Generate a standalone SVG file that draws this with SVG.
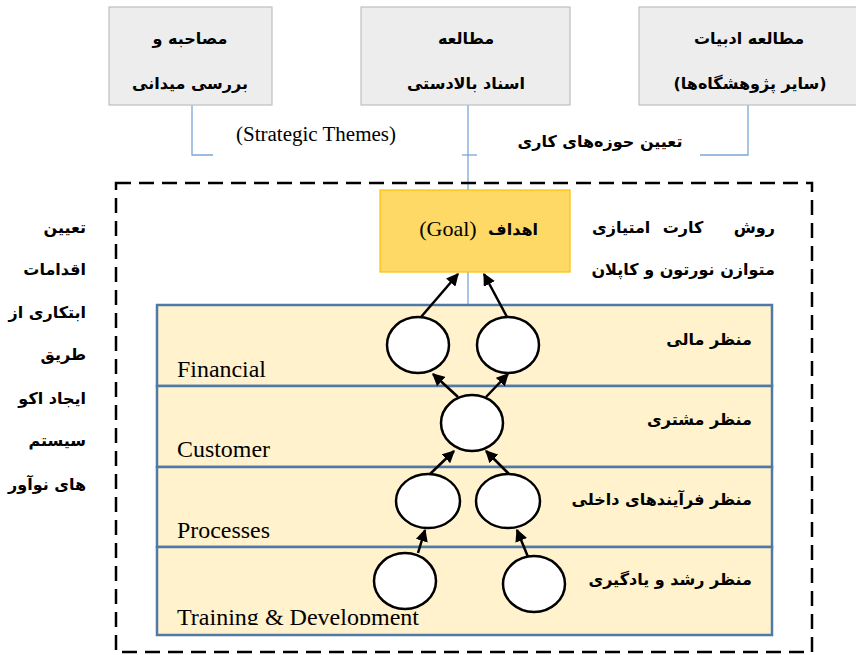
<svg xmlns="http://www.w3.org/2000/svg" width="856" height="655" viewBox="0 0 856 655">
<style>
.src{fill:#ededed;stroke:#bfbfbf;stroke-width:1.2}
.fa{font-family:'DejaVu Sans',sans-serif;font-weight:bold;font-size:16px;fill:#000}
.en{font-family:'Liberation Serif','Times New Roman',serif;fill:#000}
.blue{stroke:#7aa7d8;stroke-width:1.3;fill:none}
.row{fill:#fff2cc;stroke:#4f7aa6;stroke-width:2.5}
.node{fill:#fff;stroke:#000;stroke-width:2.5}
.arr{stroke:#000;stroke-width:2.5;fill:none;marker-end:url(#ah)}
</style>
<defs>
<marker id="ah" viewBox="0 0 10 10" refX="9" refY="5" markerWidth="5" markerHeight="5" orient="auto" markerUnits="strokeWidth">
<path d="M0,0 L10,5 L0,10 z" fill="#000"/>
</marker>
<clipPath id="panelClip"><rect x="157" y="305" width="615" height="320"/></clipPath>
</defs>
<rect width="856" height="655" fill="#fff"/>

<g id="connectors-top">
<path class="blue" d="M192,105 V155 H213"/>
<path class="blue" d="M468,105 V305"/>
<path class="blue" d="M462,155 H477"/>
<path class="blue" d="M748,105 V155 H700"/>
</g>

<g id="src-interview">
<rect class="src" x="109" y="7" width="163" height="98"/>
<text class="fa" x="190" y="44" text-anchor="middle" direction="rtl" font-size="17">مصاحبه و</text>
<text class="fa" x="190" y="89" text-anchor="middle" direction="rtl" font-size="17">بررسی میدانی</text>
</g>
<g id="src-docs">
<rect class="src" x="361" y="7" width="209" height="98"/>
<text class="fa" x="466" y="44" text-anchor="middle" direction="rtl" font-size="17">مطالعه</text>
<text class="fa" x="466" y="89" text-anchor="middle" direction="rtl" font-size="17">اسناد بالادستی</text>
</g>
<g id="src-literature">
<rect class="src" x="639" y="7" width="230" height="98"/>
<text class="fa" x="749" y="44" text-anchor="middle" direction="rtl" font-size="17">مطالعه ادبیات</text>
<text class="fa" x="750" y="89" text-anchor="middle" direction="rtl" font-size="17">(سایر پژوهشگاه‌ها)</text>
</g>

<g id="labels-top">
<text class="en" x="316" y="141" font-size="20" text-anchor="middle" textLength="160" lengthAdjust="spacingAndGlyphs">(Strategic Themes)</text>
<text class="fa" x="600" y="147" text-anchor="middle" direction="rtl" font-size="15">تعیین حوزه‌های کاری</text>
</g>

<g id="frame">
<rect x="116" y="183" width="696" height="469" fill="none" stroke="#000" stroke-width="2.5" stroke-dasharray="15,8"/>
</g>

<g id="side-text">
<text class="fa" x="86" y="233" text-anchor="end">تعیین</text>
<text class="fa" x="86" y="275" text-anchor="end">اقدامات</text>
<text class="fa" x="86" y="318" text-anchor="end">ابتکاری از</text>
<text class="fa" x="86" y="360" text-anchor="end">طریق</text>
<text class="fa" x="86" y="404" text-anchor="end">ایجاد اکو</text>
<text class="fa" x="86" y="446" text-anchor="end">سیستم</text>
<text class="fa" x="86" y="490" text-anchor="end">های نوآور</text>
</g>

<g id="method-text">
<text class="fa" x="775" y="233" text-anchor="end" font-size="17">روش</text>
<text class="fa" x="683" y="233" text-anchor="middle" font-size="17">کارت</text>
<text class="fa" x="592" y="233" text-anchor="start" font-size="17">امتیازی</text>
<text class="fa" x="775" y="275" text-anchor="start" direction="rtl" font-size="17">متوازن نورتون و کاپلان</text>
</g>

<g id="goal">
<rect x="380" y="190" width="190" height="82" fill="#ffd966" stroke="#ffc000" stroke-width="1.2"/>
<text class="en" x="448" y="236" font-size="22" text-anchor="middle">(Goal)</text>
<text class="fa" x="538" y="235" text-anchor="end" font-size="17">اهداف</text>
</g>

<g id="panel">
<rect class="row" x="157" y="305" width="615" height="81"/>
<rect class="row" x="157" y="386" width="615" height="81"/>
<rect class="row" x="157" y="467" width="615" height="80"/>
<rect class="row" x="157" y="547" width="615" height="88"/>
</g>

<g id="row-financial">
<text class="fa" x="752" y="345" text-anchor="end" font-size="17">منظر مالی</text>
<text class="en" x="177" y="377" font-size="24" textLength="89" lengthAdjust="spacingAndGlyphs">Financial</text>
</g>
<g id="row-customer">
<text class="fa" x="752" y="425" text-anchor="end" font-size="17">منظر مشتری</text>
<text class="en" x="177" y="457" font-size="24" textLength="93" lengthAdjust="spacingAndGlyphs">Customer</text>
</g>
<g id="row-processes">
<text class="fa" x="752" y="505" text-anchor="end" font-size="17">منظر فرآیندهای داخلی</text>
<text class="en" x="177" y="538" font-size="24" textLength="93" lengthAdjust="spacingAndGlyphs">Processes</text>
</g>
<g id="row-training">
<text class="fa" x="752" y="585" text-anchor="end" font-size="17">منظر رشد و یادگیری</text>
<text class="en" x="177" y="625" font-size="24" textLength="242" lengthAdjust="spacingAndGlyphs" clip-path="url(#panelClip)">Training &amp; Development</text>
</g>

<g id="connectors">
<line class="arr" x1="421" y1="317" x2="458" y2="274"/>
<line class="arr" x1="507" y1="317" x2="484" y2="274"/>
<line class="arr" x1="458" y1="397" x2="433" y2="374"/>
<line class="arr" x1="486" y1="397" x2="508" y2="374"/>
<line class="arr" x1="430" y1="474" x2="454" y2="451"/>
<line class="arr" x1="509" y1="474" x2="486" y2="451"/>
<line class="arr" x1="418" y1="553" x2="425" y2="530"/>
<line class="arr" x1="528" y1="557" x2="517" y2="530"/>
</g>

<g id="n-fin1"><ellipse class="node" cx="418" cy="345" rx="31" ry="28"/></g>
<g id="n-fin2"><ellipse class="node" cx="508" cy="345" rx="31" ry="28"/></g>
<g id="n-cust"><ellipse class="node" cx="472" cy="423" rx="31" ry="28"/></g>
<g id="n-proc1"><ellipse class="node" cx="428" cy="501" rx="32" ry="27"/></g>
<g id="n-proc2"><ellipse class="node" cx="508" cy="501" rx="32" ry="27"/></g>
<g id="n-train1"><ellipse class="node" cx="405" cy="581" rx="31" ry="28"/></g>
<g id="n-train2"><ellipse class="node" cx="534" cy="584" rx="31" ry="28"/></g>
</svg>
